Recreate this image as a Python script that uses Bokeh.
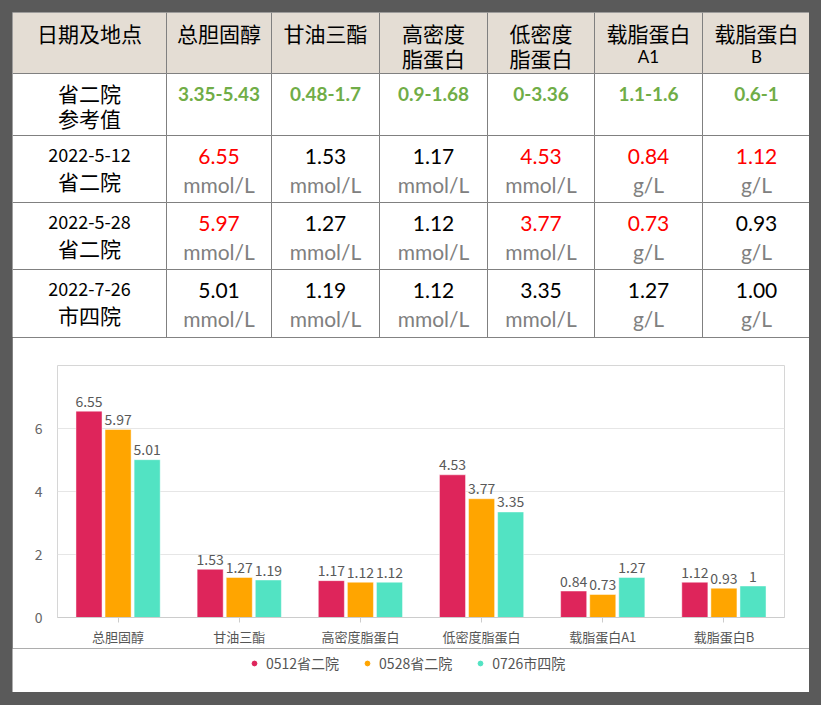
from bokeh.plotting import figure
from bokeh.models import (Range1d, FactorRange, ColumnDataSource, Legend, LegendItem,
                          FixedTicker, GlobalInlineStyleSheet)
from bokeh.transform import dodge
from bokeh.core.properties import value
from bokeh.embed import file_html
from bokeh.resources import INLINE

# ---------------- data ----------------
categories = ["总胆固醇", "甘油三酯", "高密度脂蛋白", "低密度脂蛋白", "载脂蛋白A1", "载脂蛋白B"]
header_top = ["日期及地点", "总胆固醇", "甘油三酯", "高密度", "低密度", "载脂蛋白", "载脂蛋白"]
header_bottom = ["", "", "", "脂蛋白", "脂蛋白", "A1", "B"]
ref_title = ["省二院", "参考值"]
ref_ranges = ["3.35-5.43", "0.48-1.7", "0.9-1.68", "0-3.36", "1.1-1.6", "0.6-1"]
ref_low = [3.35, 0.48, 0.9, 0.0, 1.1, 0.6]
ref_high = [5.43, 1.7, 1.68, 3.36, 1.6, 1.0]
units = ["mmol/L", "mmol/L", "mmol/L", "mmol/L", "g/L", "g/L"]
visit_dates = ["2022-5-12", "2022-5-28", "2022-7-26"]
visit_sites = ["省二院", "省二院", "市四院"]
series_names = ["0512省二院", "0528省二院", "0726市四院"]
v0512 = [6.55, 1.53, 1.17, 4.53, 0.84, 1.12]
v0528 = [5.97, 1.27, 1.12, 3.77, 0.73, 0.93]
v0726 = [5.01, 1.19, 1.12, 3.35, 1.27, 1.00]
series_values = [v0512, v0528, v0726]
y_ticks = [0, 2, 4, 6]

# ---------------- styles / layout ----------------
BG = "#5a5a5a"
HEADER_FILL = "#e4ddd4"
GRID_LINE = "#808080"
GREEN = "#70ad47"
RED = "#ff0000"
UNIT_GRAY = "#808080"
bar_colors = ["#de255b", "#ffa500", "#52e3c3"]
CJK_NAME = "Noto Sans CJK SC"
CJK = value(CJK_NAME)
LAT = value("Lato")

col_widths = [154, 105, 108, 108, 107, 108, 108]
row_heights = [61, 62, 67, 67, 68]
cx = [0]
for w in col_widths:
    cx.append(cx[-1] + w)
cy = [0]
for h in row_heights:
    cy.append(cy[-1] + h)
TW, TH = cx[-1], cy[-1]
centers = [(cx[i] + cx[i + 1]) / 2 for i in range(len(col_widths))]

page_css = GlobalInlineStyleSheet(
    css=f"html, body {{ background-color: {BG}; }} body {{ margin: 12px; }}")

def no_outline(fig):
    fig.outline_line_color = None
    fig.outline_line_alpha = 0
    fig.outline_line_width = 0

# ---------------- table figure ----------------
t = figure(width=TW, height=TH, x_range=Range1d(0, TW), y_range=Range1d(TH, 0),
           output_backend="svg", toolbar_location=None, min_border=0,
           background_fill_color="white", border_fill_color="white", stylesheets=[page_css])
no_outline(t)
t.axis.visible = False
t.grid.visible = False

ql, qr, qt, qb, qf = [], [], [], [], []
for r in range(len(row_heights)):
    for c in range(len(col_widths)):
        ql.append(cx[c]); qr.append(cx[c + 1]); qt.append(cy[r]); qb.append(cy[r + 1])
        qf.append(HEADER_FILL if r == 0 else "white")
t.quad(left=ql, right=qr, top=qt, bottom=qb, fill_color=qf, line_color=GRID_LINE, line_width=1)

def txt(fig, xs, ys, texts, font, size, color, bold=False):
    fig.text(x=xs, y=ys, text=texts, text_font=font, text_font_size=f"{size}px",
             text_color=color, text_align="center", text_baseline="middle",
             text_font_style="bold" if bold else "normal")

# header
txt(t, centers, [cy[0] + 20] * 7, header_top, CJK, 21, "black")
hb_cjk = [(centers[i], s) for i, s in enumerate(header_bottom) if s and not s.isascii()]
hb_lat = [(centers[i], s) for i, s in enumerate(header_bottom) if s and s.isascii()]
txt(t, [a for a, _ in hb_cjk], [cy[0] + 45] * len(hb_cjk), [b for _, b in hb_cjk], CJK, 21, "black")
txt(t, [a for a, _ in hb_lat], [cy[0] + 44] * len(hb_lat), [b for _, b in hb_lat], LAT, 17, "black")

# reference row
txt(t, [centers[0]] * 2, [cy[1] + 19, cy[1] + 44], ref_title, CJK, 21, "black")
txt(t, centers[1:], [cy[1] + 20] * 6, ref_ranges, LAT, 19, GREEN, bold=True)

# visit rows
for k, vals in enumerate(series_values):
    top = cy[2 + k]
    txt(t, [centers[0]], [top + 19], [visit_dates[k]], CJK, 18, "black")
    txt(t, [centers[0]], [top + 45], [visit_sites[k]], CJK, 21, "black")
    colors = [RED if (v < lo or v > hi) else "black" for v, lo, hi in zip(vals, ref_low, ref_high)]
    txt(t, centers[1:], [top + 21] * 6, [f"{v:.2f}" for v in vals], LAT, 21, colors)
    txt(t, centers[1:], [top + 49] * 6, units, LAT, 21, UNIT_GRAY)

# ---------------- bar chart ----------------
src = ColumnDataSource(dict(cat=categories, s0=v0512, s1=v0528, s2=v0726,
                            l0=[f"{v:g}" for v in v0512],
                            l1=[f"{v:g}" for v in v0528],
                            l2=[f"{v:g}" for v in v0726]))

ch = figure(width=TW, height=311, x_range=FactorRange(factors=categories, range_padding=0),
            y_range=Range1d(0, 8), output_backend="svg", toolbar_location=None,
            min_border_left=45, min_border_right=26, min_border_top=28, min_border_bottom=30,
            border_fill_color="white", background_fill_color="white")
no_outline(ch)

offsets = [-0.24, 0.0, 0.24]
for i in range(3):
    ch.vbar(x=dodge("cat", offsets[i], range=ch.x_range), top=f"s{i}", width=0.215, source=src,
            fill_color=bar_colors[i], line_color="white", line_alpha=0.45, line_width=1)
    ch.text(x=dodge("cat", offsets[i], range=ch.x_range), y=f"s{i}", text=f"l{i}", source=src,
            text_font=CJK, text_font_size="14px", text_color="#595959",
            text_align="center", text_baseline="middle", y_offset=-10)

ch.xgrid.visible = False
ch.ygrid.grid_line_color = "#e6e6e6"
ch.yaxis.ticker = FixedTicker(ticks=y_ticks)
ch.yaxis.axis_line_color = None
ch.yaxis.major_tick_line_color = None
ch.yaxis.minor_tick_line_color = None
ch.yaxis.major_label_standoff = 9
ch.yaxis.major_label_text_font = CJK_NAME
ch.yaxis.major_label_text_font_size = "14px"
ch.yaxis.major_label_text_color = "#666666"

ch.xaxis.axis_line_color = "#cccccc"
ch.xaxis.major_tick_line_color = "#cccccc"
ch.xaxis.major_tick_out = 5
ch.xaxis.major_tick_in = 0
ch.xaxis.major_label_standoff = 4
ch.xaxis.major_label_text_font = CJK_NAME
ch.xaxis.major_label_text_font_size = "13px"
ch.xaxis.major_label_text_color = "#555555"

# ---------------- legend strip ----------------
lg = figure(width=TW, height=44, x_range=Range1d(0, 1), y_range=Range1d(0, 1),
            output_backend="svg", toolbar_location=None, min_border=0,
            border_fill_color="white", background_fill_color="white")
no_outline(lg)
lg.axis.visible = False
lg.grid.visible = False
legend_src = ColumnDataSource(dict(x=[-10.0], y=[-10.0]))  # off-screen anchor for legend swatches
legend_items = []
for i in range(3):
    r = lg.scatter(x="x", y="y", source=legend_src, marker="circle", size=12,
                   fill_color=bar_colors[i], line_color=bar_colors[i])
    legend_items.append(LegendItem(label=series_names[i], renderers=[r], index=0))
leg = Legend(items=legend_items, orientation="horizontal", location=(236, 19),
             label_text_font=CJK_NAME, label_text_font_size="14px", label_text_color="#555555",
             glyph_width=12, glyph_height=14, label_standoff=6, spacing=22,
             padding=4, margin=0, border_line_color=None, background_fill_alpha=0)
lg.add_layout(leg)

open("out.html", "w").write(file_html([t, ch, lg], INLINE))
